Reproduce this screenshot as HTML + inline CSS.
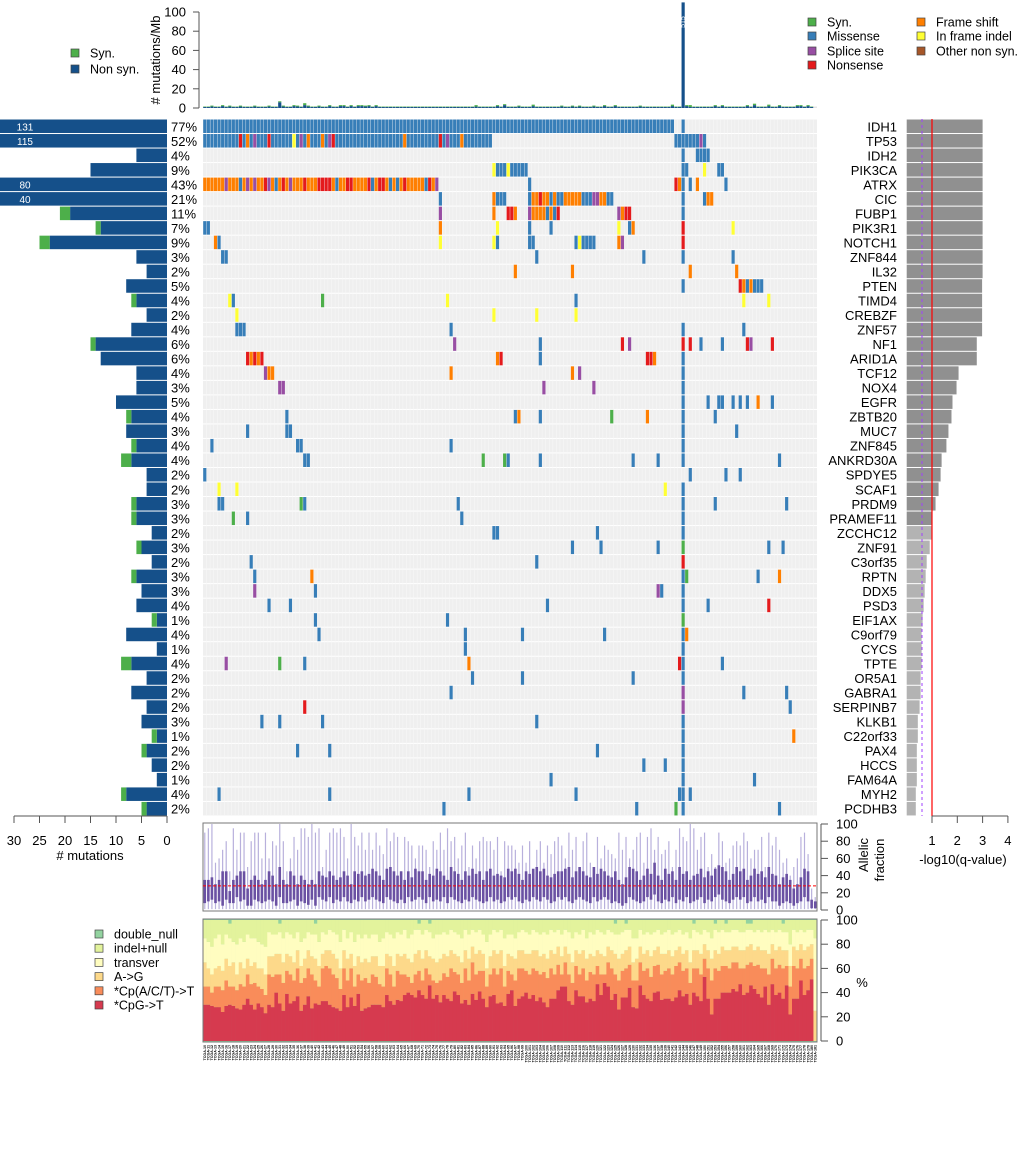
<!DOCTYPE html>
<html><head><meta charset="utf-8"><style>
body{margin:0;background:#fff}
svg{display:block;font-family:"Liberation Sans",sans-serif}
</style></head><body>
<svg id="c" width="1020" height="1152" viewBox="0 0 1020 1152" xmlns="http://www.w3.org/2000/svg"></svg>
<script>
const genes=["IDH1","TP53","IDH2","PIK3CA","ATRX","CIC","FUBP1","PIK3R1","NOTCH1","ZNF844","IL32","PTEN","TIMD4","CREBZF","ZNF57","NF1","ARID1A","TCF12","NOX4","EGFR","ZBTB20","MUC7","ZNF845","ANKRD30A","SPDYE5","SCAF1","PRDM9","PRAMEF11","ZCCHC12","ZNF91","C3orf35","RPTN","DDX5","PSD3","EIF1AX","C9orf79","CYCS","TPTE","OR5A1","GABRA1","SERPINB7","KLKB1","C22orf33","PAX4","HCCS","FAM64A","MYH2","PCDHB3"];
const pcts=[77,52,4,9,43,21,11,7,9,3,2,5,4,2,4,6,6,4,3,5,4,3,4,4,2,2,3,3,2,3,2,3,3,4,1,4,1,4,2,2,2,3,1,2,2,1,4,2];
const nonsynCounts=[131,115,6,15,80,40,19,13,23,6,4,8,6,4,7,14,13,6,6,10,7,8,6,7,4,4,6,6,3,5,3,6,5,6,2,8,2,7,4,7,4,5,2,4,3,2,8,4];
const synCounts=[0,0,0,0,0,0,2,1,2,0,0,0,1,0,0,1,0,0,0,0,1,0,1,2,0,0,1,1,0,1,0,1,0,0,1,0,0,2,0,0,0,0,1,1,0,0,1,1];
const qvals=[3,3,3,3,3,3,3,3,3,3,3,2.98,2.98,2.98,2.98,2.77,2.77,2.05,1.97,1.81,1.77,1.65,1.57,1.38,1.34,1.26,1.14,1.02,0.99,0.91,0.79,0.75,0.71,0.67,0.63,0.59,0.59,0.59,0.55,0.55,0.51,0.44,0.44,0.4,0.4,0.4,0.36,0.36];
const mutations=[
"0-131m,134m",
"0-80m,10n,12f,14s,18n,25i,27s,29f,33f,35s,36n,56f,66n,68s,72f,132-138m,139s,140m",
"134m,138-141m",
"81i,82-84m,85i,86-90m,134-135m,140i,144-145m",
"0:ffffffsfffmfsfsffnsfmfnfsfffnfffnnnnfmffnnffffnmfnnfmfmfnfffffmnfs,91m,132n,133f,134m,136m,138f,146m",
"66m,81f,82-84m,91m,92-93f,94n,95-96f,97m,98f,99-100m,101-105f,106-108m,109-110s,111-112f,113-114m,134m,140m,141-142f",
"66s,81f,85-86n,87f,91s,92-95f,96m,97f,98m,99n,116s,117f,118n,119n,134m",
"0-1m,66f,82i,91m,97m,116i,119m,120f,134n,148i",
"3f,4m,66i,81i,82m,91-92m,104m,105i,106-109m,116f,117s,134n",
"5-6m,93m,123m,134m,148m",
"87f,103f,136f,149f",
"134m,150n,151f,152m,153f,154-156m",
"7i,8m,33y,68i,104m,151i,158i",
"9i,81i,93i,104i",
"9-11m,69m,134m,151m",
"70s,94m,117n,119s,134n,136n,139m,145m,152n,153s,159n",
"12n,13f,14n,15f,16n,82f,83n,94m,124n,125n,126f,134m",
"17s,18-19f,69f,103f,105s,134m",
"21-22s,95s,109s,134m",
"134m,141m,144-145m,148m,150m,152m,155f,159m",
"23m,87m,88f,94m,114y,124f,134m,143m",
"12m,23-24m,134m,149m",
"2m,26-27m,69m,134m",
"28-29m,78y,84y,85m,94m,120m,127m,134m,161m",
"0m,136m,146m,150m",
"4i,9i,129i,134m",
"4-5m,27y,28m,71m,134m,143m,163m",
"8y,12m,72m,134m",
"81-82m,110m,134m",
"103m,111m,127m,134y,158m,162m",
"13m,93m,134n",
"14m,30f,134m,135y,155m,161f",
"14s,31m,127s,128m,134m",
"18m,24m,96m,134m,141m,158n",
"31m,68m,134y",
"32m,73m,89m,112m,134m,135f",
"73m,134m",
"6s,21y,28m,74f,133n,134m,145m",
"75m,89m,120m,134m",
"69m,134s,151m,163m",
"28n,134s,164m",
"16m,21m,33m,93m,134m",
"134m,165f",
"26m,35m,110m,134m",
"123m,129m,134m",
"97m,134m,154m",
"4m,35m,74m,104m,133-134m,136m",
"67m,121m,132y,134m,161m"];
const rateNonsyn="1 1 1.5 1 1 2 1 1.5 1 1 1.5 1 1 1 1.5 1 1 1 1.5 1 1 6 1.5 1 1 2 1.5 1 3 1.5 1 1 1.5 1 1 2 1 1 2 2 1 2 1 2 2 1.5 2 1 2 1 1 1 1 1 1 1 1 1 1 1 1 1 1 1 1 1 1 1 1 1 1 1 1 1 1 1 1.5 1 1 1 1 1 2 1 3 1 1 1 1.5 1 1 1 2 1 1 1 1 1 1 1 1.5 1 1 1.5 1 1.5 1 1 1 1.5 1 1 2 1 1 2 1 1 1 1 1 1 1.5 1 1 1 1 1 1 1 1 2 1 1 120 2 1 1 1 1 1 1 1 2 1 2 1 1 1 1 1 1 2 1 3 1 1 1 2 1 1 2 1 1 1 1 2 2 1 2 1".split(" ").map(Number);
const rateSyn="0.5 0.5 1 0.5 0.5 1 0.5 1 0.5 0.5 1 0.5 0.5 0.5 1 0.5 0.5 0.5 1 0.5 0.5 1 1 0.5 0.5 1 1 0.5 2 1 0.5 0.5 1 0.5 0.5 1 0.5 0.5 1 1 0.5 1 0.5 1 1 1 1 0.5 1 0.5 0.5 0.5 0.5 0.5 0.5 0.5 0.5 0.5 0.5 0.5 0.5 0.5 0.5 0.5 0.5 0.5 0.5 0.5 0.5 0.5 0.5 0.5 0.5 0.5 0.5 0.5 1.5 0.5 0.5 0.5 0.5 0.5 1 0.5 1 0.5 0.5 0.5 1 0.5 0.5 0.5 1.5 0.5 0.5 0.5 0.5 0.5 0.5 0.5 1 0.5 0.5 1 0.5 1 0.5 0.5 0.5 1 0.5 0.5 1 0.5 0.5 1 0.5 0.5 0.5 0.5 0.5 0.5 1 0.5 0.5 0.5 0.5 0.5 0.5 0.5 0.5 1.5 0.5 0.5 0 1 2 0.5 0.5 0.5 0.5 0.5 0.5 1 0.5 1 0.5 0.5 0.5 0.5 0.5 0.5 1 0.5 1.5 0.5 0.5 0.5 1.5 0.5 0.5 1 0.5 0.5 0.5 0.5 1 1 0.5 1 0.5".split(" ").map(Number);
const afQ3="35 35 38 30 35 45 45 22 35 40 45 45 25 35 40 35 30 35 45 40 30 50 35 30 45 40 30 40 35 30 35 30 45 40 38 45 40 35 38 45 40 30 45 42 45 40 42 48 45 40 35 48 50 45 40 45 35 45 38 48 45 45 35 42 40 48 45 40 35 50 45 42 35 45 40 48 42 45 35 45 48 40 42 40 38 48 45 48 42 35 45 42 48 50 45 48 40 38 42 45 45 48 50 38 45 50 45 40 38 50 42 48 45 40 38 45 35 30 38 50 48 45 35 40 48 42 55 40 35 48 42 45 35 50 42 45 35 40 42 48 38 45 40 48 52 50 45 35 42 50 45 48 35 40 48 42 45 38 50 42 40 30 38 42 35 25 30 38 48 45 12 10".split(" ").map(Number);
const afQ1="8 10 12 8 10 5 12 8 8 15 10 12 5 5 12 10 8 10 12 10 5 15 8 8 10 12 5 10 8 6 12 5 15 12 10 15 8 12 10 15 10 8 12 10 15 10 12 15 12 10 8 15 12 10 8 12 8 15 10 12 15 12 8 15 10 12 10 15 8 15 12 10 8 12 10 15 12 10 8 10 15 10 12 8 10 15 12 15 10 8 12 10 15 12 10 15 12 8 10 15 12 15 10 8 12 15 12 10 8 15 10 12 15 12 8 10 8 5 8 15 12 10 8 10 15 12 18 10 8 12 10 15 8 12 10 15 8 10 12 15 8 12 10 15 18 12 10 8 12 15 12 15 8 10 15 10 12 8 15 10 10 5 8 10 8 5 8 10 15 10 2 2".split(" ").map(Number);
const afMax="90 95 100 55 60 70 80 45 95 70 90 90 50 80 90 90 60 90 60 80 75 100 80 45 60 85 70 95 95 85 100 90 95 50 70 90 95 90 95 85 60 100 85 75 90 70 90 70 90 75 65 95 80 90 85 45 85 80 75 60 75 75 70 50 80 70 90 70 95 80 85 60 75 90 50 75 60 80 85 80 80 70 85 45 80 75 75 70 55 75 55 80 45 70 80 55 75 65 80 85 75 60 90 70 85 50 80 90 55 50 85 60 75 70 65 60 90 70 85 60 70 85 90 55 85 95 70 85 65 70 80 50 70 95 85 80 100 95 70 85 90 50 65 50 90 80 55 60 75 80 75 90 80 60 70 70 85 50 90 75 85 70 55 60 40 50 60 85 90 65 25 15".split(" ").map(Number);
const specCpG="30 30 29 28 28 24 29 30 29 27 26 30 35 30 26 31 28 23 30 28 40 31 25 39 31 33 37 25 30 37 27 31 30 33 33 30 28 27 25 38 28 36 29 39 25 27 28 30 30 30 28 38 33 30 34 33 38 40 38 36 42 38 35 46 35 38 32 38 35 33 41 38 31 34 30 39 34 41 35 28 37 38 31 32 29 39 42 29 35 37 40 35 38 33 36 32 28 35 35 42 45 45 33 30 42 37 37 32 35 33 47 38 48 45 34 39 26 36 36 44 28 27 46 38 35 33 40 41 34 35 35 33 36 42 37 39 30 40 37 33 53 35 22 35 35 40 40 40 43 41 47 38 40 46 43 39 36 45 30 47 38 40 35 46 22 35 35 50 38 42 51 0".split(" ").map(Number);
const specCpA="45 45 40 45 45 42 50 45 45 42 47 45 55 47 48 45 43 38 55 53 55 55 48 58 55 50 60 48 52 60 55 50 45 60 62 60 55 52 43 60 50 60 45 55 50 52 48 55 53 47 45 60 55 45 58 55 55 53 48 55 58 50 60 55 50 48 50 56 53 60 57 55 48 60 50 65 55 58 58 45 55 60 55 60 45 58 55 50 60 60 58 55 60 58 55 57 52 60 55 63 55 65 55 48 62 55 60 50 57 55 62 55 55 65 60 55 50 58 60 63 50 50 65 58 60 53 62 63 55 58 60 55 62 65 58 60 48 60 60 55 68 60 50 60 58 62 62 60 65 65 60 60 63 65 62 63 60 60 55 68 60 63 60 62 45 62 60 68 60 62 68 0".split(" ").map(Number);
const specAG="65 60 55 60 62 58 68 62 65 55 65 60 68 62 65 60 60 55 70 70 72 72 65 72 70 65 75 62 68 75 70 68 62 72 75 75 72 68 60 75 68 72 62 70 65 68 65 70 70 62 62 72 70 62 72 70 72 68 65 72 75 68 75 70 68 65 68 72 70 75 72 70 65 75 68 78 72 75 72 60 70 75 72 75 62 72 70 68 75 75 72 72 75 75 70 72 68 75 72 78 70 78 72 65 75 72 75 68 72 70 75 72 70 78 75 72 68 72 75 78 65 68 78 72 75 70 75 78 72 72 75 70 75 78 72 75 65 75 75 72 80 75 68 75 72 78 75 75 78 78 75 75 78 80 75 78 75 75 72 80 75 78 75 75 62 78 75 80 75 78 80 25".split(" ").map(Number);
const specTransver="85 82 78 85 88 80 88 85 82 80 85 82 88 85 85 82 80 78 90 88 88 90 85 90 88 85 90 82 85 90 88 88 82 90 88 92 90 88 82 92 85 90 82 88 85 88 85 88 88 82 85 90 88 85 90 88 92 85 88 92 92 88 92 90 85 88 88 90 88 92 90 88 85 92 88 92 90 92 88 82 88 92 90 92 85 88 88 85 90 92 90 88 92 90 88 90 88 92 90 92 88 92 90 85 90 88 92 85 90 88 92 90 88 92 90 88 88 90 92 92 85 85 92 88 90 88 90 92 88 90 92 88 90 92 88 90 85 92 90 88 92 90 85 92 90 92 90 90 92 92 90 90 92 92 90 92 90 92 90 92 90 92 90 90 80 92 90 92 90 92 92 85".split(" ").map(Number);
const specIndel="100 100 100 100 100 100 100 97 100 100 100 100 100 100 100 100 100 100 100 100 100 97 100 100 100 100 100 100 100 100 100 97 100 100 100 100 100 100 100 100 100 100 100 100 100 100 100 100 100 100 100 100 100 100 100 100 100 100 100 100 97 100 100 97 100 100 100 100 100 100 100 100 100 100 100 100 100 100 100 100 100 100 100 100 100 100 100 100 100 100 100 100 100 100 100 100 100 100 100 100 100 100 100 100 100 100 100 100 100 100 100 100 100 100 100 97 100 100 97 100 100 100 100 100 100 100 100 100 100 100 100 100 100 100 100 100 100 97 100 100 100 100 100 97 100 100 97 100 100 100 100 100 97 97 100 100 100 100 100 100 100 100 97 100 100 100 100 100 100 100 100 100".split(" ").map(Number);

const svg=document.getElementById('c');
const NS="http://www.w3.org/2000/svg";
function mk(tag,attrs,parent){const e=document.createElementNS(NS,tag);for(const k in attrs)e.setAttribute(k,attrs[k]);(parent||svg).appendChild(e);return e;}
function tx(x,y,s,size,anchor,parent,extra){const e=mk('text',Object.assign({x:x,y:y,'font-size':size,'text-anchor':anchor||'start',fill:'#000'},extra||{}),parent);e.textContent=s;return e;}

const N=172, gx0=203, gx1=817, cw=(gx1-gx0)/N;
const top0=119, rowH=14.52;
const colors={m:'#377eb8',f:'#ff7f00',n:'#e41a1c',s:'#984ea3',i:'#ffff33',y:'#4daf4a',o:'#a65628'};
const xS=i=>gx0+i*cw;
const rowY=r=>top0+r*rowH;

// ---- top mutation rate panel
const topY0=108, topY100=12;
const yTop=v=>topY0-(v/100)*(topY0-topY100);
const topAx=mk('g',{});


mk('line',{x1:199,y1:yTop(0),x2:199,y2:yTop(100),stroke:'#555'},topAx);
[0,20,40,60,80,100].forEach(v=>{mk('line',{x1:193,y1:yTop(v),x2:199,y2:yTop(v),stroke:'#555'},topAx);tx(186,yTop(v)+4.5,String(v),13,'end',topAx);});
const tt=tx(160,60,'# mutations/Mb',13,'middle',svg,{transform:'rotate(-90 160 60)'});


mk('rect',{x:gx0,y:106.5,width:gx1-gx0,height:1.5,fill:'#e5e5e5'});
for(let i=0;i<N;i++){
  const h1=Math.min(rateNonsyn[i],110)*(topY0-topY100)/100, h2=rateSyn[i]*(topY0-topY100)/100;
  const top=Math.max(0,topY0-h1);
  const b=mk('rect',{x:xS(i)+0.2,y:top,width:cw-0.4,height:topY0-top,fill:'#15508a'});
  
  
  const g=mk('rect',{x:xS(i)+0.2,y:top-h2,width:cw-0.4,height:h2,fill:'#4daf4a'});
  
  
}
tx(xS(134)+cw/2+2,22,'515',7,'middle',svg,{fill:'#fff',transform:`rotate(-90 ${xS(134)+cw/2+2} 22)`});

// legends top
function legItem(x,y,col,label,name,parent,size){
  const g=mk('g',{},parent);
  
  
  mk('rect',{x:x,y:y-4,width:8,height:8,fill:col,stroke:'#444','stroke-width':0.7},g);
  tx(x+19,y+4.5,label,size||12.5,'start',g);
}
legItem(71,53,'#4daf4a','Syn.','legend-syn-left');
legItem(71,69,'#15508a','Non syn.','legend-nonsyn-left');
legItem(808,22,colors.y,'Syn.','legend-syn');
legItem(808,36,colors.m,'Missense','legend-missense');
legItem(808,51,colors.s,'Splice site','legend-splice-site');
legItem(808,65,colors.n,'Nonsense','legend-nonsense');
legItem(917,22,colors.f,'Frame shift','legend-frame-shift');
legItem(917,36,colors.i,'In frame indel','legend-in-frame-indel');
legItem(917,51,colors.o,'Other non syn.','legend-other-non-syn');

// ---- oncoprint grid
for(let r=0;r<genes.length;r++){
  const bg=mk('rect',{x:gx0,y:rowY(r)+0.5,width:gx1-gx0,height:rowH-1,fill:'#efefef'});
  
  
}
for(let i=1;i<N;i++){mk('line',{x1:xS(i),y1:top0,x2:xS(i),y2:rowY(genes.length),stroke:'#f8f8f8','stroke-width':0.5});}
function parseMut(s){const out={};s.split(',').forEach(t=>{
  if(t.includes(':')){const [a,seq]=t.split(':');for(let k=0;k<seq.length;k++)out[+a+k]=seq[k];}
  else{const m=t.match(/^(\d+)(?:-(\d+))?([a-z])$/);const a=+m[1],b=m[2]?+m[2]:a;for(let k=a;k<=b;k++)out[k]=m[3];}
});return out;}
const xL=v=>167-v*(167-14)/30;
const xQ=v=>906.7+v*25.3;
for(let r=0;r<genes.length;r++){
  const muts=parseMut(mutations[r]);
  for(const k in muts){
    const c=mk('rect',{x:xS(+k)+0.2,y:rowY(r)+0.5,width:cw-0.4,height:rowH-1,fill:colors[muts[k]]});
    
    
  }
  const yc=rowY(r)+rowH/2;
  const gl=tx(897,yc+5,genes[r],13,'end');
  
  
  const pl=tx(171,yc+5,pcts[r]+'%',13,'start');
  
  
  const ns=nonsynCounts[r], sy=synCounts[r];
  const x1=Math.max(0,xL(ns));
  const lb=mk('rect',{x:x1,y:rowY(r)+0.5,width:167-x1,height:rowH-1,fill:'#15508a'});
  
  
  if(sy>0){const x2=Math.max(0,xL(ns+sy));
    const sb=mk('rect',{x:x2,y:rowY(r)+0.5,width:x1-x2,height:rowH-1,fill:'#4daf4a'});
    
    }
  if(ns>30){tx(25,yc+4,String(ns),10,'middle',svg,{fill:'#fff'});}
  const qb=mk('rect',{x:906.7,y:rowY(r)+0.5,width:xQ(qvals[r])-906.7,height:rowH-1,fill:qvals[r]>=1?'#909090':'#b3b3b3'});
  
  
}
const rl=mk('line',{x1:xQ(1),y1:top0,x2:xQ(1),y2:816,stroke:'#ff0000','stroke-width':1.2});


const pl2=mk('line',{x1:922,y1:top0,x2:922,y2:816,stroke:'#a040ff','stroke-width':1,'stroke-dasharray':'3,3'});



// left axis
const la=mk('g',{});


mk('line',{x1:xL(30),y1:816,x2:xL(0),y2:816,stroke:'#555'},la);
[30,25,20,15,10,5,0].forEach(v=>{mk('line',{x1:xL(v),y1:816,x2:xL(v),y2:823,stroke:'#555'},la);tx(xL(v),845,String(v),13,'middle',la);});
tx(90,860,'# mutations',13,'middle',la);
// q axis
const qa=mk('g',{});


mk('line',{x1:xQ(1),y1:816,x2:xQ(4),y2:816,stroke:'#555'},qa);
[1,2,3,4].forEach(v=>{mk('line',{x1:xQ(v),y1:816,x2:xQ(v),y2:823,stroke:'#555'},qa);tx(xQ(v),845,String(v),13,'middle',qa);});
tx(963,864,'-log10(q-value)',13,'middle',qa);

// ---- allelic fraction panel
const afT=824, afB=910;
const yAF=v=>afB-v/100*(afB-afT);
const afBox=mk('rect',{x:gx0,y:afT-1,width:gx1-gx0,height:afB-afT+2,fill:'#fff',stroke:'#777','stroke-width':1});


for(let i=0;i<N;i++){
  const cx=xS(i)+cw/2;
  const w=mk('line',{x1:cx,y1:yAF(afMax[i]),x2:cx,y2:yAF(1),stroke:'#b8b0dc','stroke-width':1.2});
  
  
  const b=mk('rect',{x:cx-1.3,y:yAF(afQ3[i]),width:2.6,height:yAF(afQ1[i])-yAF(afQ3[i]),fill:'#6a51a3'});
  
  
}
const md=mk('line',{x1:gx0,y1:yAF(28),x2:gx1,y2:yAF(28),stroke:'#ff0000','stroke-dasharray':'3,2'});


const afa=mk('g',{});


mk('line',{x1:821,y1:afT,x2:821,y2:afB,stroke:'#555'},afa);
[0,20,40,60,80,100].forEach(v=>{mk('line',{x1:821,y1:yAF(v),x2:828,y2:yAF(v),stroke:'#555'},afa);tx(836,yAF(v)+4.5,String(v),13,'start',afa);});
tx(868,855,'Allelic',13,'middle',afa,{transform:'rotate(-90 868 855)'});
tx(884,860,'fraction',13,'middle',afa,{transform:'rotate(-90 884 860)'});

// ---- spectrum panel
const spT=920, spB=1041;
const ySP=v=>spB-v/100*(spB-spT);
const spBox=mk('rect',{x:gx0,y:spT-1,width:gx1-gx0,height:spB-spT+2,fill:'#93d3a0',stroke:'#777','stroke-width':1});


const spCols=['#d63a4f','#f98c5a','#fdd98a','#fffdc0','#e3f39c'];
const spNames=['cpg','cpa','a-to-g','transver','indel-null'];
const spArrs=[specCpG,specCpA,specAG,specTransver,specIndel];
for(let i=0;i<N;i++){
  let prev=0;
  for(let k=0;k<5;k++){
    const v=spArrs[k][i];
    if(v>prev){
      const s=mk('rect',{x:xS(i),y:ySP(v),width:cw+0.3,height:ySP(prev)-ySP(v),fill:spCols[k]});
      
      
      prev=v;
    }
  }
}
mk('rect',{x:gx0,y:spT-1,width:gx1-gx0,height:spB-spT+2,fill:'none',stroke:'#777','stroke-width':1});
const spa=mk('g',{});


mk('line',{x1:821,y1:spT,x2:821,y2:spB,stroke:'#555'},spa);
[0,20,40,60,80,100].forEach(v=>{mk('line',{x1:821,y1:ySP(v),x2:828,y2:ySP(v),stroke:'#555'},spa);tx(836,ySP(v)+4.5,String(v),13,'start',spa);});
tx(862,987,'%',13,'middle',spa);
const legS=[['#93d3a0','double_null'],['#e3f39c','indel+null'],['#fffdc0','transver'],['#fdd98a','A->G'],['#f98c5a','*Cp(A/C/T)->T'],['#d63a4f','*CpG->T']];
legS.forEach((l,k)=>legItem(95,934+k*14.2,l[0],l[1],'legend-'+l[1].replace(/[^a-zA-Z]+/g,'-').toLowerCase(),svg,12.5));

// sample labels
for(let i=0;i<N;i++){
  const x=xS(i)+cw/2+1.2;
  const t=tx(x,1045,'TCGA-'+(10+i),3.6,'end',svg,{transform:`rotate(-90 ${x} 1045)`,'font-weight':'bold'});
  
  
}
</script>
</body></html>
